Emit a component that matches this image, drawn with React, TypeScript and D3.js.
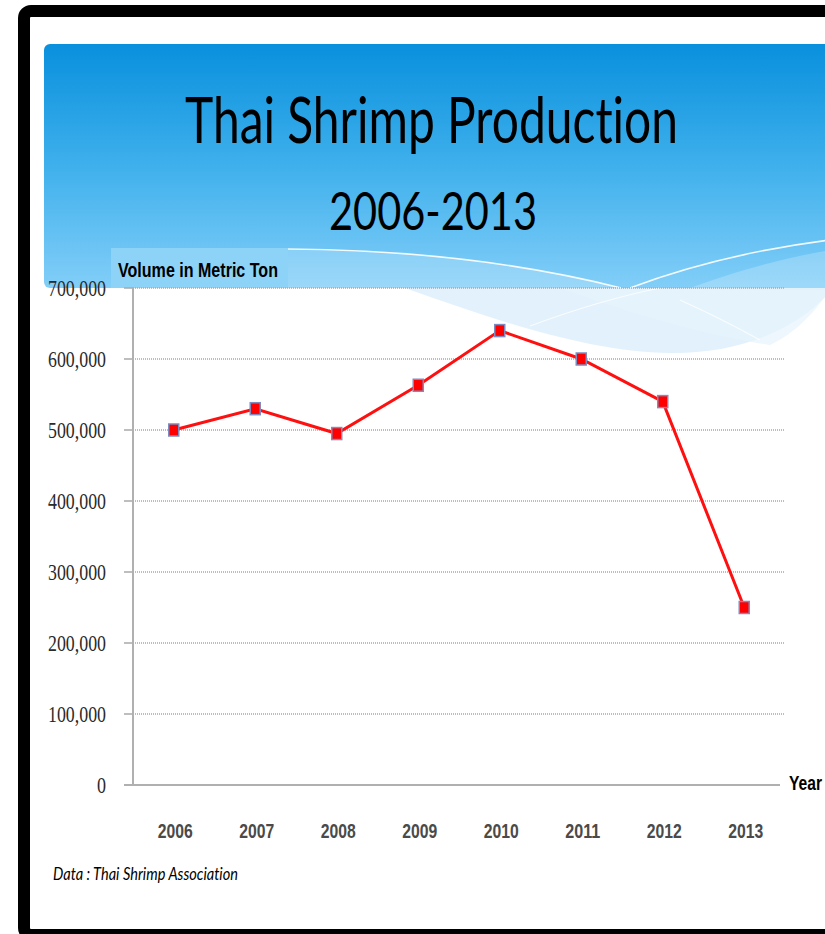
import React from "react";
import * as d3 from "d3";

const years = ["2006", "2007", "2008", "2009", "2010", "2011", "2012", "2013"];
const volumes = [500000, 530000, 495000, 563000, 640000, 600000, 540000, 250000];
const yTicks = [0, 100000, 200000, 300000, 400000, 500000, 600000, 700000];

const titleLine1 = "Thai Shrimp Production";
const titleLine2 = "2006-2013";
const yAxisTitle = "Volume in Metric Ton";
const xAxisTitle = "Year";
const sourceNote = "Data : Thai Shrimp Association";

export default function App() {
  const W = 825;
  const H = 934;
  const x = d3.scaleBand<string>().domain(years).range([133, 785]).padding(0);
  const y = d3.scaleLinear().domain([0, 700000]).range([785, 288]);
  const fmt = d3.format(",");
  const cx = (yr: string) => (x(yr) as number) + x.bandwidth() / 2;

  const line = d3
    .line<number>()
    .x((_, i) => cx(years[i]))
    .y((v) => y(v));

  const noLig = { fontVariantLigatures: "none" as const };

  return (
    <svg
      width={W}
      height={H}
      style={{ position: "absolute", left: 0, top: 0, display: "block", background: "#fff" }}
    >
      <defs>
        <linearGradient id="hdr" x1="0" y1="0" x2="0" y2="1">
          <stop offset="0" stopColor="#0990dd" />
          <stop offset="0.5" stopColor="#3fb0ec" />
          <stop offset="1" stopColor="#82cef8" />
        </linearGradient>
        <clipPath id="hdrClip">
          <rect x={44} y={44} width={790} height={244} rx={6} />
        </clipPath>
      </defs>

      {/* header */}
      <rect x={44} y={44} width={790} height={244} rx={6} fill="url(#hdr)" />
      <g clipPath="url(#hdrClip)">
        <path d="M 288 249 Q 470 250 621 288 L 288 288 Z" fill="#ffffff" opacity={0.2} />
        <path d="M 690 288 Q 760 262 830 250 L 830 288 Z" fill="#ffffff" opacity={0.22} />
        <path d="M 288 249 Q 470 250 621 288" fill="none" stroke="#ffffff" strokeWidth={1.6} opacity={0.9} />
        <path d="M 630 288 Q 720 254 830 240" fill="none" stroke="#ffffff" strokeWidth={1.6} opacity={0.9} />
      </g>
      {/* waves below header */}
      <path
        d="M 405 288 C 500 322, 590 352, 670 353 C 745 354, 800 326, 830 292 L 830 288 Z"
        fill="#d8ecfa"
        opacity={0.75}
      />
      <path
        d="M 560 288 C 620 310, 700 335, 770 345 C 800 330, 815 310, 830 290 Z"
        fill="#e6f3fc"
        opacity={0.7}
      />
      <path d="M 530 326 Q 600 300 660 288" fill="none" stroke="#ffffff" strokeWidth={1.2} opacity={0.8} />
      <path d="M 680 300 Q 720 318 760 340" fill="none" stroke="#ffffff" strokeWidth={1.2} opacity={0.8} />

      {/* title */}
      <text
        x={185}
        y={143}
        fontFamily="Lato, 'Open Sans', sans-serif"
        fontSize={64}
        fill="#000"
        textLength={493}
        lengthAdjust="spacingAndGlyphs"
        style={noLig}
      >
        {titleLine1}
      </text>
      <text
        x={329}
        y={230}
        fontFamily="Lato, 'Open Sans', sans-serif"
        fontSize={52}
        fill="#000"
        textLength={208}
        lengthAdjust="spacingAndGlyphs"
      >
        {titleLine2}
      </text>

      {/* y axis title box */}
      <rect x={111} y={248} width={177} height={40} fill="#8dd3f8" />
      <text
        x={118}
        y={277}
        fontFamily="'Liberation Sans', Arial, sans-serif"
        fontWeight="bold"
        fontSize={20}
        fill="#000"
        textLength={160}
        lengthAdjust="spacingAndGlyphs"
      >
        {yAxisTitle}
      </text>

      {/* gridlines */}
      {yTicks
        .filter((t) => t > 0)
        .map((t) => (
          <line
            key={"g" + t}
            x1={133}
            x2={785}
            y1={y(t)}
            y2={y(t)}
            stroke="#a8a8a8"
            strokeWidth={1.5}
            strokeDasharray="1 1"
          />
        ))}
      {/* tick marks */}
      {yTicks.map((t) => (
        <line key={"t" + t} x1={124} x2={133} y1={y(t)} y2={y(t)} stroke="#a8a8a8" strokeWidth={1.5} />
      ))}
      {/* axes */}
      <line x1={133} x2={133} y1={y(700000)} y2={y(0)} stroke="#b0b0b0" strokeWidth={2} />
      <line x1={124} x2={780} y1={y(0)} y2={y(0)} stroke="#b0b0b0" strokeWidth={2} />

      {/* y tick labels */}
      {yTicks.map((t) => {
        const s = fmt(t);
        return (
          <text
            key={"l" + t}
            x={106}
            y={y(t) + 8}
            textAnchor="end"
            fontFamily="'Liberation Serif', 'Times New Roman', serif"
            fontSize={24}
            fill="#2a2a2a"
            textLength={t === 0 ? 9 : 58}
            lengthAdjust="spacingAndGlyphs"
          >
            {s}
          </text>
        );
      })}

      {/* x labels */}
      {years.map((yr) => (
        <text
          key={"x" + yr}
          x={cx(yr) + 1.5}
          y={838}
          textAnchor="middle"
          fontFamily="'Liberation Sans', Arial, sans-serif"
          fontWeight="bold"
          fontSize={21}
          fill="#4a4a4a"
          textLength={35}
          lengthAdjust="spacingAndGlyphs"
        >
          {yr}
        </text>
      ))}
      <text
        x={789}
        y={790}
        fontFamily="'Liberation Sans', Arial, sans-serif"
        fontWeight="bold"
        fontSize={21}
        fill="#000"
        textLength={33}
        lengthAdjust="spacingAndGlyphs"
      >
        {xAxisTitle}
      </text>

      {/* line */}
      <path d={line(volumes) || ""} fill="none" stroke="#ff1010" strokeWidth={3} />
      {volumes.map((v, i) => (
        <rect
          key={"m" + i}
          x={cx(years[i]) - 5}
          y={y(v) - 6}
          width={10}
          height={12}
          fill="#ff0000"
          stroke="#7f8cc0"
          strokeWidth={1.5}
        />
      ))}

      {/* source */}
      <text
        x={53}
        y={880}
        fontFamily="Lato, 'Open Sans', sans-serif"
        fontStyle="italic"
        fontSize={17}
        fill="#000"
        textLength={185}
        lengthAdjust="spacingAndGlyphs"
        style={noLig}
      >
        {sourceNote}
      </text>

      {/* frame */}
      <rect x={24} y={11} width={840} height={924} rx={7} fill="none" stroke="#000" strokeWidth={12} />
    </svg>
  );
}
